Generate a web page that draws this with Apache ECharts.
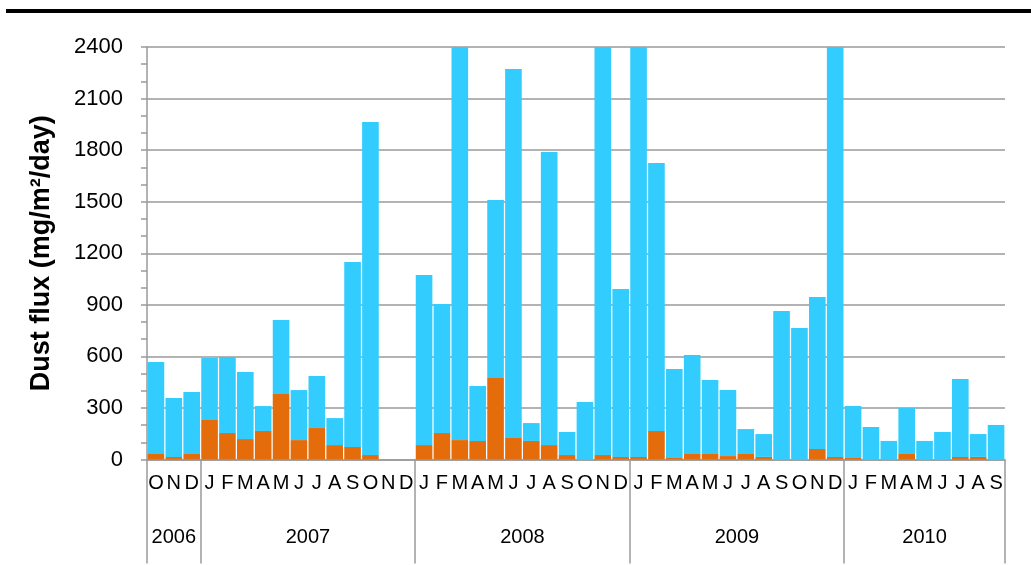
<!DOCTYPE html>
<html>
<head>
<meta charset="utf-8">
<title>Dust flux</title>
<script src="https://cdn.jsdelivr.net/npm/echarts@6/dist/echarts.min.js"></script>
<style>
  html, body { margin: 0; padding: 0; background: #fff; }
  #chart { width: 1031px; height: 565px; }
</style>
</head>
<body>
<div id="chart"></div>
<script>
// Monthly categories, Oct 2006 – Sep 2010
const months = [
  'O','N','D',
  'J','F','M','A','M','J','J','A','S','O','N','D',
  'J','F','M','A','M','J','J','A','S','O','N','D',
  'J','F','M','A','M','J','J','A','S','O','N','D',
  'J','F','M','A','M','J','J','A','S'
];
const years = ['2006', '2007', '2008', '2009', '2010'];
const monthsPerYear = [3, 12, 12, 12, 9];

// Lower (orange) part of each stacked bar, mg/m²/day
const lowerPart = [
  32, 15, 32,
  230, 154, 119, 166, 381, 113, 183, 84, 73, 26, null, null,
  84, 154, 113, 108, 474, 125, 108, 84, 26, 0, 26, 15,
  15, 166, 9, 32, 32, 20, 32, 15, 0, 0, 61, 15,
  9, 0, 0, 32, 0, 0, 15, 15, 0
];
// Upper (blue) part stacked on top, mg/m²/day
const upperPart = [
  535, 343, 361,
  360, 442, 390, 145, 431, 291, 303, 157, 1076, 1938, null, null,
  989, 751, 2900, 320, 1036, 2147, 104, 1705, 134, 335, 3200, 977,
  2800, 1559, 518, 576, 431, 384, 145, 133, 864, 765, 884, 2650,
  302, 189, 108, 268, 108, 160, 453, 133, 201
];
const yTicks = { min: 0, max: 2400, step: 300 };

// Year boundaries and year-label centres, in month units
const yearStarts = [];
const yearCentres = [];
let acc = 0;
monthsPerYear.forEach(function (n) {
  yearStarts.push(acc);
  yearCentres.push(acc + n / 2);
  acc += n;
});

const FONT = "'Liberation Sans', Arial, sans-serif";
const AXIS_GRAY = '#9a9a9a';

const chart = echarts.init(document.getElementById('chart'), null, { renderer: 'canvas' });

chart.setOption({
  animation: false,
  backgroundColor: '#fff',
  graphic: [{
    type: 'rect',
    shape: { x: 6, y: 9, width: 1025, height: 4 },
    style: { fill: '#000' },
    silent: true
  }],
  grid: { left: 147, right: 26, top: 47, bottom: 105.5, containLabel: false },
  xAxis: [{
    type: 'category',
    data: months,
    position: 'bottom',
    axisLine: { show: true, lineStyle: { color: AXIS_GRAY, width: 1.5 } },
    axisTick: {
      show: true,
      length: 104,
      interval: function (index) { return yearStarts.indexOf(index) >= 0; },
      lineStyle: { color: AXIS_GRAY, width: 1.5 }
    },
    axisLabel: {
      interval: 0,
      margin: 14,
      color: '#000',
      fontFamily: FONT,
      fontSize: 20
    },
    splitLine: { show: false }
  }, {
    type: 'value',
    min: 0,
    max: months.length,
    interval: 1.5,
    position: 'bottom',
    axisLine: { show: false },
    axisTick: { show: false },
    splitLine: { show: false },
    axisLabel: {
      margin: 68,
      color: '#000',
      fontFamily: FONT,
      fontSize: 20,
      showMinLabel: true,
      showMaxLabel: true,
      formatter: function (v) {
        for (let i = 0; i < yearCentres.length; i++) {
          if (Math.abs(yearCentres[i] - v) < 1e-6) return years[i];
        }
        return '';
      }
    }
  }],
  yAxis: {
    type: 'value',
    min: yTicks.min,
    max: yTicks.max,
    interval: yTicks.step,
    name: 'Dust flux (mg/m²/day)',
    nameLocation: 'middle',
    nameGap: 92,
    nameTextStyle: {
      color: '#000',
      fontFamily: FONT,
      fontSize: 27,
      fontWeight: 'bold'
    },
    axisLine: { show: true, lineStyle: { color: AXIS_GRAY, width: 1.5 } },
    axisTick: { show: true, length: 6, lineStyle: { color: AXIS_GRAY, width: 1.5 } },
    minorTick: { show: true, splitNumber: 3, length: 6, lineStyle: { color: AXIS_GRAY, width: 1.5 } },
    axisLabel: {
      margin: 24,
      color: '#000',
      fontFamily: FONT,
      fontSize: 22,
      formatter: function (v) { return String(v); }
    },
    splitLine: { show: true, lineStyle: { color: AXIS_GRAY, width: 1.5 } }
  },
  series: [{
    name: 'lower',
    type: 'bar',
    stack: 'flux',
    data: lowerPart,
    barCategoryGap: '7%',
    clip: true,
    itemStyle: { color: '#E46C0A' }
  }, {
    name: 'upper',
    type: 'bar',
    stack: 'flux',
    data: upperPart,
    barCategoryGap: '7%',
    clip: true,
    itemStyle: { color: '#33CCFF' }
  }]
});
</script>
</body>
</html>
